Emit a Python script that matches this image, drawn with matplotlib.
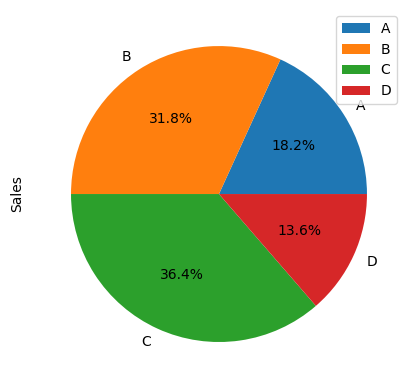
import matplotlib
matplotlib.use("Agg")
import matplotlib.pyplot as plt

# data (percentages 18.2 / 31.8 / 36.4 / 13.6)
categories = ["A", "B", "C", "D"]
sales = [200, 350, 400, 150]
colors = ["#1f77b4", "#ff7f0e", "#2ca02c", "#d62728"]

fig = plt.figure(figsize=(4.14, 3.89), dpi=100)
ax = fig.add_axes([0.0821, 0.0257, 0.8937, 0.951])

wedges, texts, autotexts = ax.pie(sales, labels=categories, colors=colors,
                                  autopct="%1.1f%%")
ax.set_ylabel("Sales", labelpad=7)
ax.legend(wedges, categories, loc="upper right")

fig.savefig("out.png", dpi=100)
